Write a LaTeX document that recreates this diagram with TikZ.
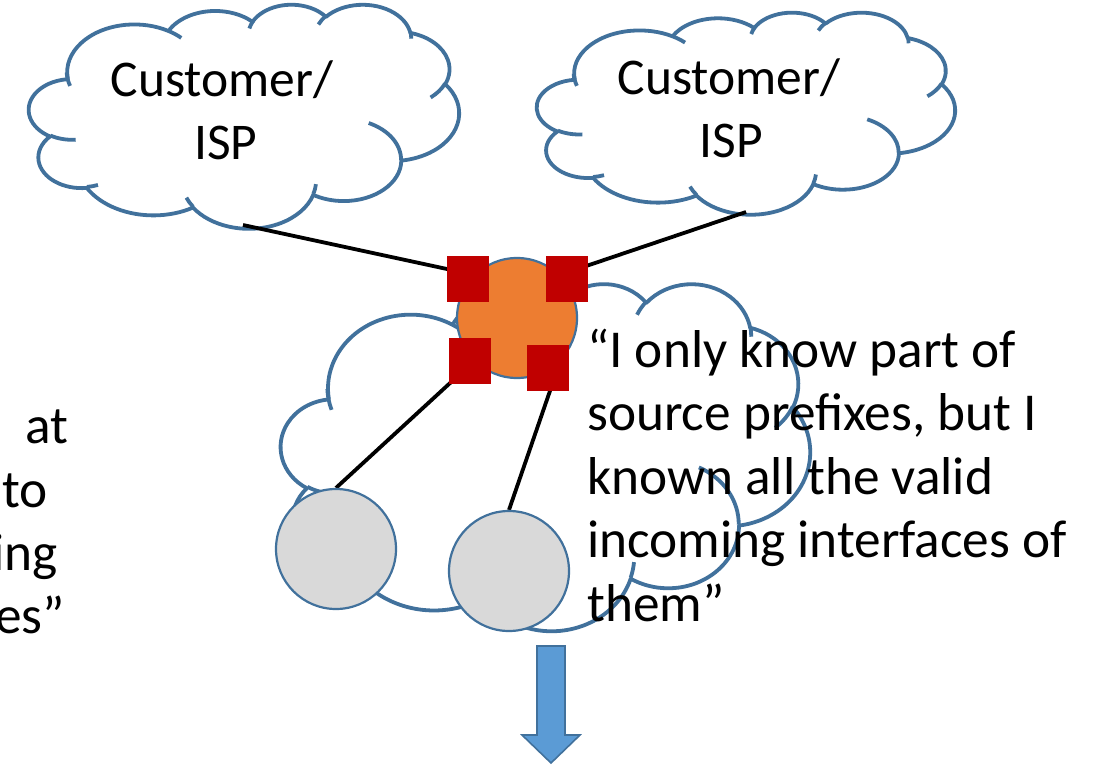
\documentclass[tikz,border=0pt]{standalone}
\usepackage{fontspec}
\setmainfont{Carlito}
\definecolor{cloudblue}{HTML}{41719C}
\definecolor{hubfill}{HTML}{ED7D31}
\definecolor{portred}{HTML}{C00000}
\definecolor{hostgray}{HTML}{D9D9D9}
\definecolor{arrowblue}{HTML}{5B9BD5}
\pgfdeclarelayer{sky}
\pgfdeclarelayer{wires}
\pgfsetlayers{sky,wires,main}

% one elliptic arc of a cloud outline: x radius, y radius, start angle, sweep;
% the angles are seen angles, turned into parametric ones here
\newcommand\cloudarc[4]{arc[x radius=#1, y radius=#2,
  start angle={atan2((#1)*sin(#3),(#2)*cos(#3))},
  delta angle={(#4)+Mod(atan2((#1)*sin((#3)+(#4)),(#2)*cos((#3)+(#4)))-atan2((#1)*sin(#3),(#2)*cos(#3))-(#4)+540,360)-180}]}

% a cloud drawn in a 432 x 432 frame, placed with its top left corner at (#1,#2)
% and stretched to #3 x #4
\newcommand\drawcloud[4]{%
  \begin{scope}[shift={(#1,#2)}, xscale={#3/432}, yscale={#4/432}]
    \draw[cloudline] (39.00,143.70)
      \cloudarc{67.53}{91.90}{-190.4875}{123.7805}
      \cloudarc{53.33}{72.67}{-144.1024}{89.9452}
      \cloudarc{43.65}{59.45}{-145.8079}{99.7230}
      \cloudarc{48.57}{65.95}{-130.9861}{117.2417}
      \cloudarc{53.33}{72.73}{-78.7089}{109.0269}
      \cloudarc{67.75}{92.20}{-46.2673}{130.2690}
      \cloudarc{57.85}{78.67}{0.6250}{114.0333}
      \cloudarc{67.52}{92.15}{22.4516}{115.1726}
      \cloudarc{77.20}{105.43}{66.2426}{75.7110}
      \cloudarc{43.60}{59.18}{-274.9421}{146.7356}
      \cloudarc{43.45}{59.45}{-246.8285}{152.5189}
      -- cycle;
    \draw[cloudhook]
      (46.93,261.77) \cloudarc{43.45}{59.45}{86.7420}{26.4295}
      (69.28,348.99) \cloudarc{43.60}{59.18}{73.6105}{11.4475}
      (164.78,390.90) \cloudarc{67.52}{92.15}{137.6242}{14.0811}
      (288.27,347.51) \cloudarc{67.52}{92.15}{6.4533}{15.9984}
      (341.29,229.54) \cloudarc{57.85}{78.67}{-70.2924}{70.9174}
      (417.98,153.54) \cloudarc{53.33}{72.73}{30.3180}{27.7515}
      (383.24,54.26) \cloudarc{48.57}{65.95}{-13.7443}{14.8589}
      (290.78,39.52) \cloudarc{48.57}{65.95}{-149.1815}{18.1954}
      (221.41,47.20) \cloudarc{43.65}{59.45}{-163.4943}{17.6864}
      (140.00,51.92) \cloudarc{67.53}{91.90}{-66.7070}{12.3194}
      (41.27,157.89) \cloudarc{67.53}{91.90}{155.6472}{21.8047};
  \end{scope}}

\begin{document}
\begin{tikzpicture}[x=1pt, y=-1pt,
  cloudline/.style={draw=cloudblue, line width=3.8pt, fill=white, line join=round},
  cloudhook/.style={draw=cloudblue, line width=3.8pt},
  wire/.style={draw=black, line width=3.8pt},
  hub/.style={circle, fill=hubfill, draw=cloudblue, line width=2.2pt,
    minimum size=120pt, inner sep=0pt},
  portbox/.style={rectangle, fill=portred, minimum width=42pt,
    minimum height=46pt, inner sep=0pt},
  hostnode/.style={circle, fill=hostgray, draw=cloudblue, line width=2.2pt,
    minimum size=120pt, inner sep=0pt},
  txt/.style={font=\fontsize{53.3}{64}\selectfont, inner sep=0pt, text=black},
  cloudtxt/.style={font=\fontsize{51.5}{63}\selectfont, inner sep=0pt, text=black},
  downarrow/.style={fill=arrowblue, draw=cloudblue, line width=1.6pt, line join=miter},
]
\useasboundingbox (0,0) rectangle (1097,767);
\clip (0,0) rectangle (1097,767);

% the two customer networks and the campus network
\begin{pgfonlayer}{sky}
  \fill[white] (0,0) rectangle (1097,767);
  \drawcloud{29}{4}{430}{224}
  \drawcloud{537}{12}{418}{202}
  \drawcloud{281}{283}{529}{347}
\end{pgfonlayer}
\coordinate (ispA) at (243,225);
\coordinate (ispB) at (746,212);

\node[cloudtxt, anchor=base] (ispAline1) at (222,97) {Customer/};
\node[cloudtxt, anchor=base] (ispAline2) at (226,160) {ISP};
\node[cloudtxt, anchor=base] (ispBline1) at (729,95) {Customer/};
\node[cloudtxt, anchor=base] (ispBline2) at (731,158) {ISP};

% border router, its interfaces and the inner hosts
\node[hub] (router) at (517,318) {};
\node[hostnode] (hostL) at (336,549) {};
\node[hostnode] (hostR) at (509,571) {};

\begin{pgfonlayer}{wires}
  \draw[wire] (ispA) -- (router.north west);
  \draw[wire] (ispB) -- (router.north east);
  \draw[wire] (router.south west) -- (hostL.north);
  \draw[wire] (router.south east) -- (hostR.north);
\end{pgfonlayer}

\node[portbox] (portNW) at (468,279) {};
\node[portbox] (portNE) at (567,279) {};
\node[portbox] (portSW) at (470,361) {};
\node[portbox] (portSE) at (548,368) {};

% the router's statement
\node[txt, anchor=base west] (say1) at (587,367) {“I only know part of};
\node[txt, anchor=base west] (say2) at (587,430.5) {source prefixes, but I};
\node[txt, anchor=base west] (say3) at (587,494) {known all the valid};
\node[txt, anchor=base west] (say4) at (587,557.5) {incoming interfaces of};
\node[txt, anchor=base west] (say5) at (587,621) {them”};

% statement running off the left edge
\node[txt, anchor=base east] (left1) at (69,443) {at};
\node[txt, anchor=base east] (left2) at (48,507) {to};
\node[txt, anchor=base east] (left3) at (58,570) {ing};
\node[txt, anchor=base east] (left4) at (65,633) {es”};

% arrow pointing downwards
\draw[downarrow] (537,646) -- (565,646) -- (565,735) -- (580,735)
  -- (551,763) -- (522,735) -- (537,735) -- cycle;
\end{tikzpicture}
\end{document}
